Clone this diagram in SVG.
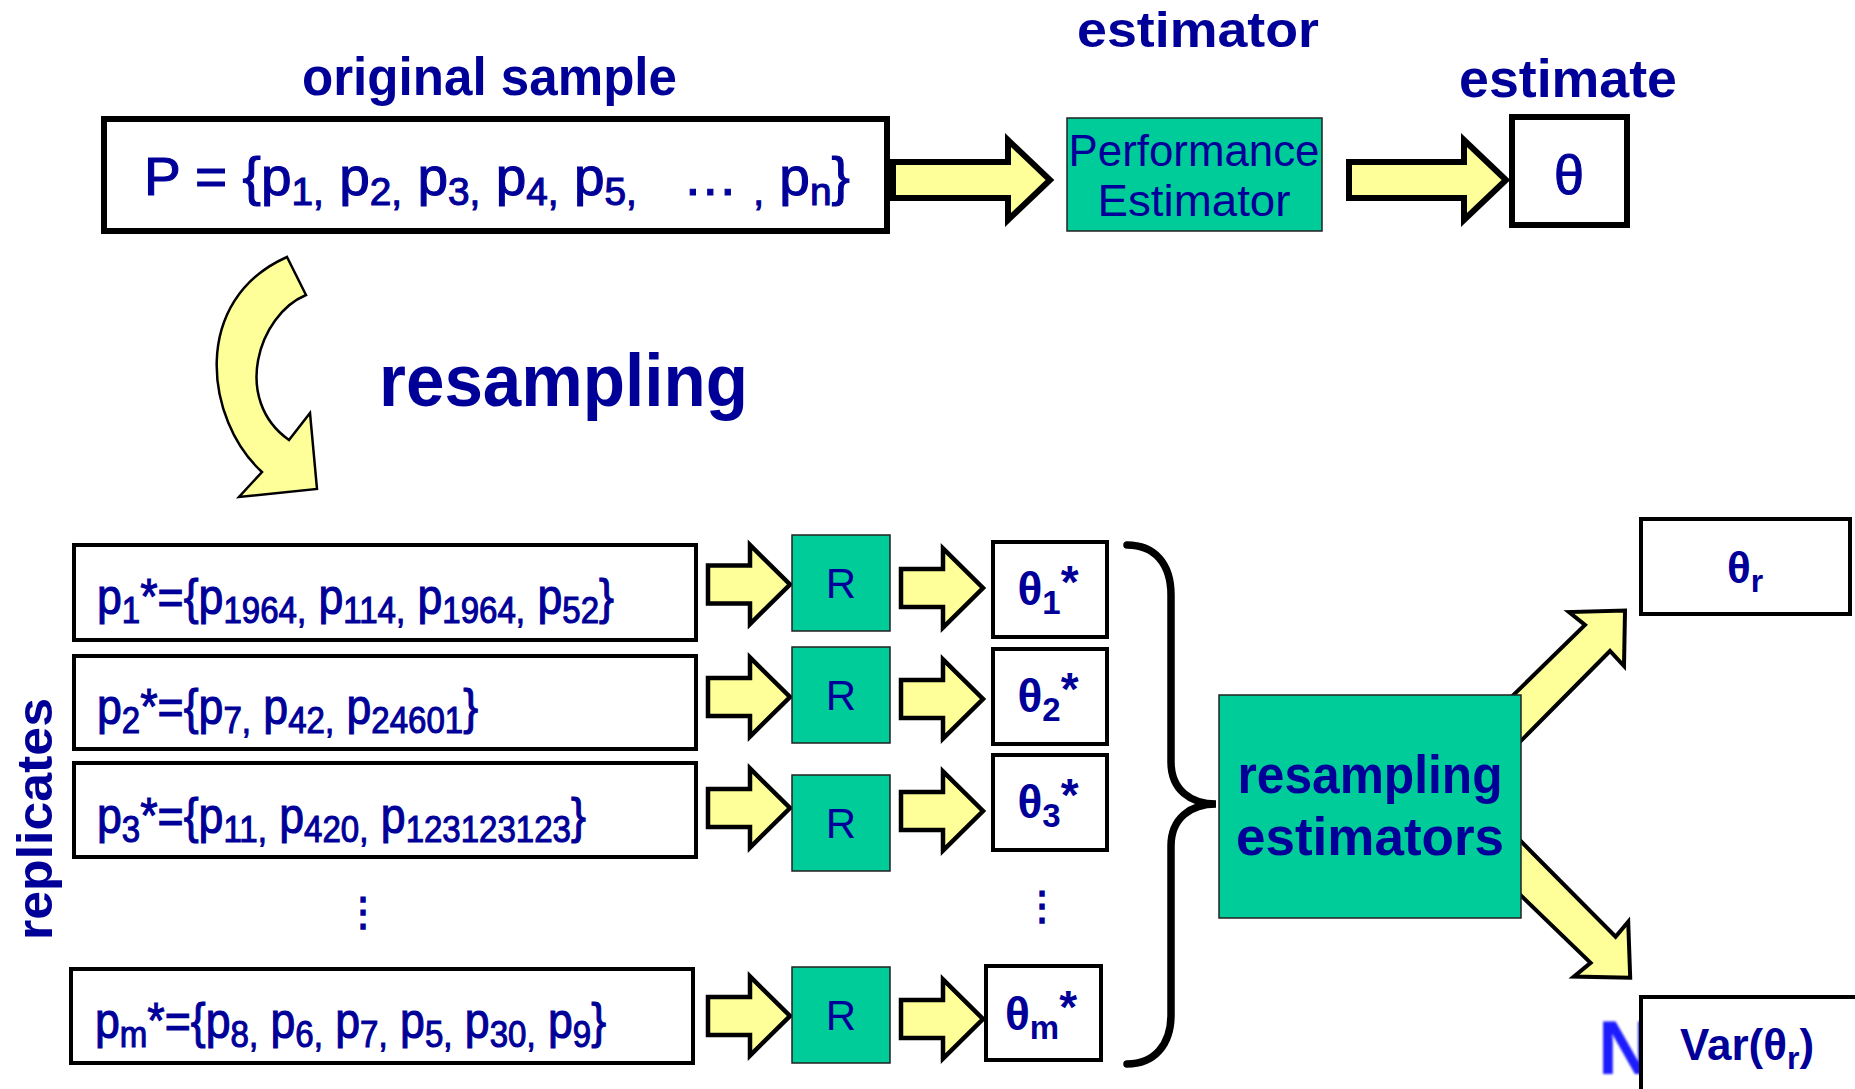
<svg xmlns="http://www.w3.org/2000/svg" width="1855" height="1089" viewBox="0 0 1855 1089">
<style>
text{font-family:"Liberation Sans",Arial,sans-serif;fill:#000099}
.b{font-weight:bold}
.lbl{font-size:54px;font-weight:bold}
.med{stroke:#000099;stroke-width:1.1px}
.rep{font-size:50px;stroke:#000099;stroke-width:1.1px}
.sb{font-size:37px}
.box{fill:#fff;stroke:#000}
.teal{fill:#00CC99;stroke:#222;stroke-width:1.5}
.yel{fill:#FFFF99;stroke:#000;stroke-linejoin:miter}
.r{font-size:42px;text-anchor:middle}
.th{font-size:46px;font-weight:bold;text-anchor:middle}
</style>
<defs>
<path id="topArrow" d="M0,-18 L115,-18 L115,-40 L157,0 L115,40 L115,18 L0,18 Z"/>
<path id="rowArrow" d="M0,-19 L42,-19 L42,-39.5 L82,0 L42,39.5 L42,19 L0,19 Z"/>
<filter id="blur" x="-20%" y="-20%" width="140%" height="140%"><feGaussianBlur stdDeviation="1.2"/></filter>
</defs>

<!-- labels -->
<text id="lbl-original" class="lbl" x="302" y="95" textLength="375" lengthAdjust="spacingAndGlyphs">original sample</text>
<text id="lbl-estimator" x="1198" y="47" font-size="50" font-weight="bold" text-anchor="middle" textLength="242" lengthAdjust="spacingAndGlyphs">estimator</text>
<text id="lbl-estimate" class="lbl" x="1568" y="97" text-anchor="middle" textLength="218" lengthAdjust="spacingAndGlyphs">estimate</text>
<text id="lbl-resampling" x="379" y="406" font-size="74" font-weight="bold" textLength="369" lengthAdjust="spacingAndGlyphs">resampling</text>
<text id="lbl-replicates" transform="translate(52,819) rotate(-90)" font-size="50" font-weight="bold" text-anchor="middle" textLength="242" lengthAdjust="spacingAndGlyphs">replicates</text>

<!-- connectors -->
<g id="connectors">
<use href="#topArrow" class="yel" stroke-width="6" x="893" y="180"/>
<use href="#topArrow" class="yel" stroke-width="6" x="1349" y="180"/>
<path class="yel" stroke-width="2.5" d="M287,257 L306,295 C258,315 232,400 289,440 L310,413 L317,489 L239,497 L262,472 C205,420 190,300 287,257 Z"/>
<use href="#rowArrow" class="yel" stroke-width="4.5" x="708" y="584.5"/>
<use href="#rowArrow" class="yel" stroke-width="4.5" x="708" y="697"/>
<use href="#rowArrow" class="yel" stroke-width="4.5" x="708" y="808"/>
<use href="#rowArrow" class="yel" stroke-width="4.5" x="708" y="1016"/>
<use href="#rowArrow" class="yel" stroke-width="4.5" x="901" y="588"/>
<use href="#rowArrow" class="yel" stroke-width="4.5" x="901" y="699"/>
<use href="#rowArrow" class="yel" stroke-width="4.5" x="901" y="811"/>
<use href="#rowArrow" class="yel" stroke-width="4.5" x="901" y="1019"/>
<path fill="none" stroke="#000" stroke-width="7.5" stroke-linecap="round" d="M1127,545 C1154,545 1171,563 1171,595 L1171,762 C1171,790 1191,804 1216,804 C1191,804 1171,818 1171,846 L1171,1015 C1171,1045 1154,1064 1127,1064"/>
<polygon class="yel" stroke-width="4" points="1495,713 1585,625 1569,612 1625,610.6 1624,666 1610,651 1528.7,733 1495,767"/>
<polygon class="yel" stroke-width="4" points="1500,820 1534,854.5 1615.6,936.7 1628.2,921.7 1630.2,977.7 1573.9,976.6 1590.6,962.8 1522.9,897.4 1500,875"/>
</g>

<!-- top row -->
<g id="node-original">
<rect class="box" stroke-width="6" x="104" y="119" width="783" height="112"/>
<text class="med" transform="translate(144,195) scale(1.02,1)" font-size="54" xml:space="preserve">P = {p<tspan font-size="38" dy="10">1,</tspan><tspan dy="-10"> p</tspan><tspan font-size="38" dy="10">2,</tspan><tspan dy="-10"> p</tspan><tspan font-size="38" dy="10">3,</tspan><tspan dy="-10"> p</tspan><tspan font-size="38" dy="10">4,</tspan><tspan dy="-10"> p</tspan><tspan font-size="38" dy="10">5,</tspan><tspan dy="-10">   … </tspan><tspan font-size="38" dy="10">,</tspan><tspan dy="-10"> p</tspan><tspan font-size="38" dy="10">n</tspan><tspan dy="-10">}</tspan></text>
</g>
<g id="node-perf">
<rect class="teal" x="1067" y="118" width="255" height="113"/>
<text x="1194" y="166" font-size="44" text-anchor="middle" textLength="251" lengthAdjust="spacingAndGlyphs">Performance</text>
<text x="1194" y="216" font-size="44" text-anchor="middle" textLength="193" lengthAdjust="spacingAndGlyphs">Estimator</text>
</g>
<g id="node-theta">
<rect class="box" stroke-width="6" x="1512" y="117" width="115" height="108"/>
<text class="med" x="1569" y="194" font-size="56" text-anchor="middle" textLength="30" lengthAdjust="spacingAndGlyphs">θ</text>
</g>

<!-- replicates -->
<g id="node-rep1">
<rect class="box" stroke-width="4" x="74" y="545" width="622" height="95"/>
<text class="rep" transform="translate(97,614) scale(0.893,1)">p<tspan class="sb" dy="9">1</tspan><tspan dy="-9">*={p</tspan><tspan class="sb" dy="9">1964,</tspan><tspan dy="-9"> p</tspan><tspan class="sb" dy="9">114,</tspan><tspan dy="-9"> p</tspan><tspan class="sb" dy="9">1964,</tspan><tspan dy="-9"> p</tspan><tspan class="sb" dy="9">52</tspan><tspan dy="-9">}</tspan></text>
</g>
<g id="node-rep2">
<rect class="box" stroke-width="4" x="74" y="656" width="622" height="93"/>
<text class="rep" transform="translate(97,724) scale(0.893,1)">p<tspan class="sb" dy="9">2</tspan><tspan dy="-9">*={p</tspan><tspan class="sb" dy="9">7,</tspan><tspan dy="-9"> p</tspan><tspan class="sb" dy="9">42,</tspan><tspan dy="-9"> p</tspan><tspan class="sb" dy="9">24601</tspan><tspan dy="-9">}</tspan></text>
</g>
<g id="node-rep3">
<rect class="box" stroke-width="4" x="74" y="763" width="622" height="94"/>
<text class="rep" transform="translate(97,833) scale(0.893,1)">p<tspan class="sb" dy="9">3</tspan><tspan dy="-9">*={p</tspan><tspan class="sb" dy="9">11,</tspan><tspan dy="-9"> p</tspan><tspan class="sb" dy="9">420,</tspan><tspan dy="-9"> p</tspan><tspan class="sb" dy="9">123123123</tspan><tspan dy="-9">}</tspan></text>
</g>
<text id="dots-rep" x="363" y="925" font-family="DejaVu Sans" font-size="40" font-weight="bold" text-anchor="middle">⋮</text>
<g id="node-repm">
<rect class="box" stroke-width="4" x="71" y="969" width="622" height="94"/>
<text class="rep" transform="translate(95,1038) scale(0.893,1)">p<tspan class="sb" dy="9">m</tspan><tspan dy="-9">*={p</tspan><tspan class="sb" dy="9">8,</tspan><tspan dy="-9"> p</tspan><tspan class="sb" dy="9">6,</tspan><tspan dy="-9"> p</tspan><tspan class="sb" dy="9">7,</tspan><tspan dy="-9"> p</tspan><tspan class="sb" dy="9">5,</tspan><tspan dy="-9"> p</tspan><tspan class="sb" dy="9">30,</tspan><tspan dy="-9"> p</tspan><tspan class="sb" dy="9">9</tspan><tspan dy="-9">}</tspan></text>
</g>

<!-- R boxes -->
<g id="node-R1"><rect class="teal" x="792" y="535" width="98" height="96"/><text class="r" x="841" y="598">R</text></g>
<g id="node-R2"><rect class="teal" x="792" y="647" width="98" height="96"/><text class="r" x="841" y="710">R</text></g>
<g id="node-R3"><rect class="teal" x="792" y="775" width="98" height="96"/><text class="r" x="841" y="838">R</text></g>
<g id="node-Rm"><rect class="teal" x="792" y="967" width="98" height="96"/><text class="r" x="841" y="1030">R</text></g>

<!-- theta* boxes -->
<g id="node-t1"><rect class="box" stroke-width="4" x="993" y="542" width="114" height="95"/><text class="th" x="1048" y="605">θ<tspan font-size="33" dy="9">1</tspan><tspan dy="-16">*</tspan></text></g>
<g id="node-t2"><rect class="box" stroke-width="4" x="993" y="649" width="114" height="95"/><text class="th" x="1048" y="712">θ<tspan font-size="33" dy="9">2</tspan><tspan dy="-16">*</tspan></text></g>
<g id="node-t3"><rect class="box" stroke-width="4" x="993" y="755" width="114" height="95"/><text class="th" x="1048" y="818">θ<tspan font-size="33" dy="9">3</tspan><tspan dy="-16">*</tspan></text></g>
<text id="dots-theta" x="1042" y="919" font-family="DejaVu Sans" font-size="40" font-weight="bold" text-anchor="middle">⋮</text>
<g id="node-tm"><rect class="box" stroke-width="4" x="986" y="966" width="115" height="94"/><text class="th" x="1041" y="1030">θ<tspan font-size="33" dy="9">m</tspan><tspan dy="-16">*</tspan></text></g>

<!-- resampling estimators -->
<g id="node-resest">
<rect class="teal" x="1219" y="695" width="302" height="223"/>
<text x="1370" y="793" font-size="54" font-weight="bold" text-anchor="middle" textLength="265" lengthAdjust="spacingAndGlyphs">resampling</text>
<text x="1370" y="855" font-size="54" font-weight="bold" text-anchor="middle" textLength="268" lengthAdjust="spacingAndGlyphs">estimators</text>
</g>

<text id="artifact-N" x="1598" y="1074" font-size="76" font-weight="bold" style="fill:#1a1aff" filter="url(#blur)">N</text>

<g id="node-thetar">
<rect class="box" stroke-width="4" x="1641" y="519" width="209" height="95"/>
<text class="b" x="1745" y="583" font-size="44" text-anchor="middle">θ<tspan font-size="32" dy="9">r</tspan></text>
</g>
<g id="node-var">
<rect class="box" stroke-width="4" x="1641" y="997" width="260" height="120"/>
<text class="b" x="1680" y="1060" font-size="44">Var(θ<tspan font-size="32" dy="9">r</tspan><tspan dy="-9">)</tspan></text>
</g>
</svg>
